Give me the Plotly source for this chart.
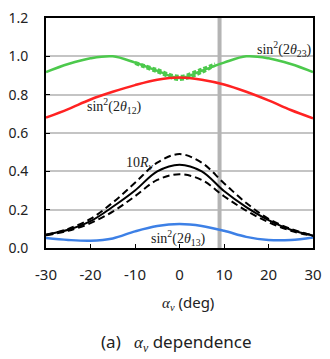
import plotly.graph_objects as go

# mixing angle alpha_nu (deg)
alpha = [-30, -25, -20, -15, -10, -5, 0, 5, 10, 15, 20, 25, 30]

sin2_23 = [0.918, 0.96, 0.99, 1.0, 0.967, 0.925, 0.887, 0.925, 0.967, 1.0, 0.99, 0.96, 0.918]
sin2_12 = [0.68, 0.725, 0.775, 0.815, 0.85, 0.878, 0.89, 0.878, 0.853, 0.815, 0.77, 0.72, 0.677]
sin2_13 = [0.052, 0.042, 0.038, 0.05, 0.087, 0.115, 0.125, 0.115, 0.09, 0.058, 0.042, 0.042, 0.055]
r_nu = [0.07, 0.095, 0.14, 0.215, 0.30, 0.40, 0.435, 0.40, 0.297, 0.213, 0.145, 0.095, 0.065]
r_nu_hi = [0.068, 0.1, 0.152, 0.237, 0.34, 0.445, 0.49, 0.445, 0.338, 0.235, 0.152, 0.1, 0.066]
r_nu_lo = [0.066, 0.09, 0.13, 0.19, 0.27, 0.355, 0.385, 0.355, 0.27, 0.195, 0.135, 0.09, 0.063]

# green band around the centre
alpha_c = [-10, -5, 0, 5, 8]
sin2_23_hi = [0.97, 0.932, 0.897, 0.935, 0.962]
sin2_23_lo = [0.962, 0.918, 0.878, 0.915, 0.952]

alpha_ref = 9
y_ticks = [0.0, 0.2, 0.4, 0.6, 0.8, 1.0, 1.2]
x_ticks = [-30, -20, -10, 0, 10, 20, 30]
x_labels = ['-30', '-20', '-10', '0', '10', '20', '30']

fig = go.Figure()

fig.add_trace(go.Scatter(x=[alpha_ref, alpha_ref], y=[0, 1.2], mode='lines',
                         line=dict(color='#b4b4b4', width=4)))

fig.add_trace(go.Scatter(x=alpha, y=sin2_23, mode='lines', line_shape='spline',
                         line=dict(color='#4cc94c', width=2.5)))
for ys in (sin2_23_hi, sin2_23_lo):
  fig.add_trace(go.Scatter(x=alpha_c, y=ys, mode='lines', line_shape='spline',
                           line=dict(color='#4cc94c', width=2.5, dash='4px,2px')))
fig.add_trace(go.Scatter(x=alpha, y=sin2_12, mode='lines', line_shape='spline',
                         line=dict(color='#ff2222', width=2.5)))
fig.add_trace(go.Scatter(x=alpha, y=sin2_13, mode='lines', line_shape='spline',
                         line=dict(color='#3d80e6', width=2.5)))
fig.add_trace(go.Scatter(x=alpha, y=r_nu, mode='lines', line_shape='spline',
                         line=dict(color='black', width=2)))
for ys in (r_nu_hi, r_nu_lo):
  fig.add_trace(go.Scatter(x=alpha, y=ys, mode='lines', line_shape='spline',
                           line=dict(color='black', width=2, dash='7px,4px')))

serif = dict(family='Liberation Serif', size=14, color='#222')
fig.add_annotation(x=23.5, y=1.04, text='sin<sup>2</sup>(2<i>θ</i><sub>23</sub>)',
                   showarrow=False, font=serif)
fig.add_annotation(x=-14.6, y=0.74, text='sin<sup>2</sup>(2<i>θ</i><sub>12</sub>)',
                   showarrow=False, font=serif)
fig.add_annotation(x=-8.8, y=0.44, text='10<i>R</i><sub><i>ν</i></sub>',
                   showarrow=False, font=serif)
fig.add_annotation(x=-0.3, y=0.05, text='sin<sup>2</sup>(2<i>θ</i><sub>13</sub>)',
                   showarrow=False, font=serif)

fig.add_annotation(x=0.53, y=-0.235, xref='paper', yref='paper', showarrow=False,
                   yanchor='middle',
                   text='<span style="font-family:Liberation Serif"><i>α<sub>ν</sub></i></span> (deg)',
                   font=dict(family='Noto Sans', size=15, color='#222'))
fig.add_annotation(x=0.49, y=-0.412, xref='paper', yref='paper', showarrow=False,
                   yanchor='middle',
                   text='(a)   <span style="font-family:Liberation Serif"><i>α<sub>ν</sub></i></span> dependence',
                   font=dict(family='Noto Sans', size=17, color='#222'))

fig.update_xaxes(range=[-30, 30], tickvals=x_ticks, ticktext=x_labels,
                 showgrid=False, zeroline=False,
                 showline=True, linecolor='black', linewidth=2, mirror=True,
                 ticks='inside', ticklen=4, tickcolor='black', ticklabelstandoff=12,
                 ticklabeloverflow='allow',
                 tickfont=dict(family='Noto Sans', size=15, color='#222'))
fig.update_yaxes(range=[0, 1.2001], tickvals=y_ticks, tickformat='.1f', showgrid=True,
                 gridcolor='#c4c4c4', gridwidth=2, zeroline=False,
                 showline=True, linecolor='black', linewidth=2, mirror=True,
                 ticks='inside', ticklen=4, tickcolor='black', ticklabelstandoff=13,
                 ticklabeloverflow='allow',
                 tickfont=dict(family='Noto Sans', size=14, color='#222'))

fig.update_layout(width=330, height=359, showlegend=False,
                  margin=dict(l=31, r=12, t=8, b=111),
                  paper_bgcolor='white', plot_bgcolor='white')

fig.write_html("out.html", config={'displayModeBar': False},
               post_script="document.body.style.margin='0';")
